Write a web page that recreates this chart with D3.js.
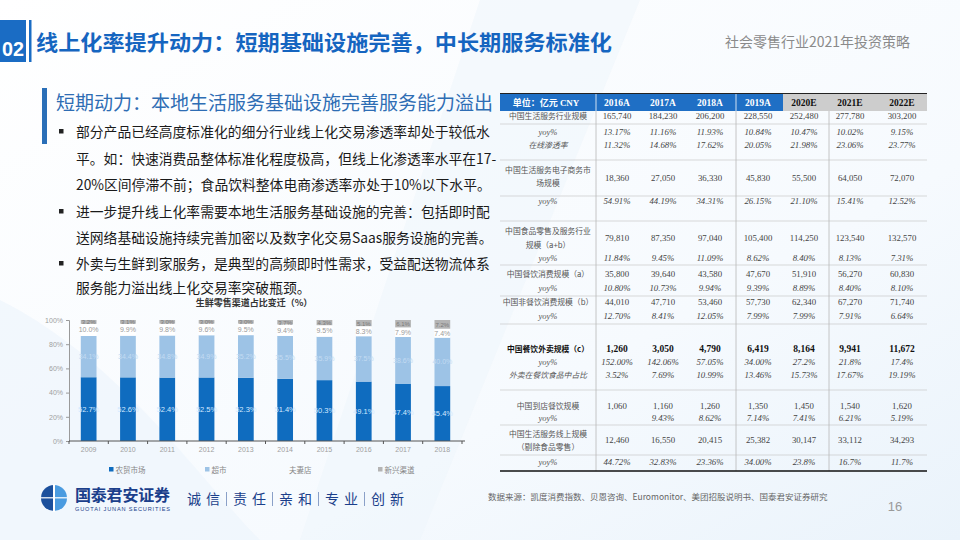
<!DOCTYPE html>
<html><head><meta charset="utf-8">
<script src="https://cdn.jsdelivr.net/npm/d3@7"></script>
<style>body{margin:0;background:#fff}svg{display:block}</style>
</head><body>
<svg id="c" width="960" height="540"></svg>
<script>
// ---------- data ----------
const chartYears = ["2009","2010","2011","2012","2013","2014","2015","2016","2017","2018"];
const wetMarket   = [52.7,52.6,52.4,52.5,52.3,51.4,50.3,49.1,47.4,45.4];
const supermarket = [34.1,34.4,34.8,34.9,35.2,35.5,35.9,37.5,38.6,40.0];
const momPop      = [10.0,9.9,9.8,9.6,9.5,9.4,9.5,8.3,7.9,7.4];
const emerging    = [3.2,3.1,3.0,3.0,3.0,3.7,4.3,5.1,6.1,7.2];
const seriesNames = ["农贸市场","超市","夫妻店","新兴渠道"];
const yTicks = [0,20,40,60,80,100];

const tableYears = ["2016A","2017A","2018A","2019A","2020E","2021E","2022E"];
const svcScale   = ["165,740","184,230","206,200","228,550","252,480","277,780","303,200"];
const svcYoy     = ["13.17%","11.16%","11.93%","10.84%","10.47%","10.02%","9.15%"];
const onlinePen  = ["11.32%","14.68%","17.62%","20.05%","21.98%","23.06%","23.77%"];
const ecomScale  = ["18,360","27,050","36,330","45,830","55,500","64,050","72,070"];
const ecomYoy    = ["54.91%","44.19%","34.31%","26.15%","21.10%","15.41%","12.52%"];
const foodScale  = ["79,810","87,350","97,040","105,400","114,250","123,540","132,570"];
const foodYoy    = ["11.84%","9.45%","11.09%","8.62%","8.40%","8.13%","7.31%"];
const cateringScale = ["35,800","39,640","43,580","47,670","51,910","56,270","60,830"];
const cateringYoy   = ["10.80%","10.73%","9.94%","9.39%","8.89%","8.40%","8.10%"];
const nonCatScale   = ["44,010","47,710","53,460","57,730","62,340","67,270","71,740"];
const nonCatYoy     = ["12.70%","8.41%","12.05%","7.99%","7.99%","7.91%","6.64%"];
const deliveryScale = ["1,260","3,050","4,790","6,419","8,164","9,941","11,672"];
const deliveryYoy   = ["152.00%","142.06%","57.05%","34.00%","27.2%","21.8%","17.4%"];
const deliveryShare = ["3.52%","7.69%","10.99%","13.46%","15.73%","17.67%","19.19%"];
const dineInScale   = ["1,060","1,160","1,260","1,350","1,450","1,540","1,620"];
const dineInYoy     = ["","9.43%","8.62%","7.14%","7.41%","6.21%","5.19%"];
const onlineScale   = ["12,460","16,550","20,415","25,382","30,147","33,112","34,293"];
const onlineYoy     = ["44.72%","32.83%","23.36%","34.00%","23.8%","16.7%","11.7%"];

const bullets = [
  ["部分产品已经高度标准化的细分行业线上化交易渗透率却处于较低水","平。如：快速消费品整体标准化程度极高，但线上化渗透率水平在17-","20%区间停滞不前；食品饮料整体电商渗透率亦处于10%以下水平。"],
  ["进一步提升线上化率需要本地生活服务基础设施的完善：包括即时配","送网络基础设施持续完善加密以及数字化交易Saas服务设施的完善。"],
  ["外卖与生鲜到家服务，是典型的高频即时性需求，受益配送物流体系","服务能力溢出线上化交易率突破瓶颈。"]
];
const mottoPairs = [["诚","信"],["责","任"],["亲","和"],["专","业"],["创","新"]];

// ---------- setup ----------
const svg = d3.select("#c");
const CJK = "'Noto Sans CJK SC','Noto Sans',sans-serif";
const SERIF = "'Liberation Serif','Noto Sans CJK SC',serif";
const BLUE = "#1a6cc4";

// background
const defs = svg.append("defs");
const g1 = defs.append("linearGradient").attr("id","bg1").attr("x1","0").attr("y1","0").attr("x2","1").attr("y2","1");
g1.append("stop").attr("offset","0").attr("stop-color","#ffffff");
g1.append("stop").attr("offset","0.65").attr("stop-color","#f6fafe");
g1.append("stop").attr("offset","1").attr("stop-color","#eaf3fb");
svg.append("rect").attr("width",960).attr("height",540).attr("fill","url(#bg1)");
svg.append("path").attr("d","M480,0 L640,0 L420,540 L300,540 Z").attr("fill","#eef5fc").attr("opacity",0.5);
svg.append("path").attr("d","M0,300 C120,360 200,480 260,540 L0,540 Z").attr("fill","#eef5fc").attr("opacity",0.7);

// ---------- header ----------
svg.append("rect").attr("x",0).attr("y",20).attr("width",26).attr("height",42).attr("fill",BLUE);
svg.append("text").attr("x",2).attr("y",56).attr("fill","#fff")
  .attr("font-family","'Liberation Sans',sans-serif").attr("font-weight","bold").attr("font-size",20)
  .attr("textLength",22).attr("lengthAdjust","spacingAndGlyphs").text("02");
svg.append("rect").attr("x",29).attr("y",20).attr("width",2.5).attr("height",42).attr("fill",BLUE);
svg.append("text").attr("x",36).attr("y",50).attr("fill","#1565c0").attr("font-family",CJK)
  .attr("font-weight","bold").attr("font-size",21).attr("textLength",576).attr("lengthAdjust","spacingAndGlyphs")
  .text("线上化率提升动力：短期基础设施完善，中长期服务标准化");
svg.append("text").attr("x",910).attr("y",47).attr("text-anchor","end").attr("fill","#8a8a8a").attr("font-family",CJK)
  .attr("font-size",14).text("社会零售行业2021年投资策略");

// ---------- subtitle & bullets ----------
svg.append("rect").attr("x",42).attr("y",88).attr("width",5).attr("height",56).attr("fill","#2a6fb8");
svg.append("text").attr("x",56).attr("y",110).attr("fill","#2e6db4").attr("font-family",CJK)
  .attr("font-size",19).text("短期动力：本地生活服务基础设施完善服务能力溢出");

const lineYs = [[137,164,190],[217,243],[269,293]];
bullets.forEach((b,i)=>{
  svg.append("rect").attr("x",59).attr("y",lineYs[i][0]-8).attr("width",4.5).attr("height",4.5).attr("fill","#222");
  b.forEach((ln,j)=>{
    svg.append("text").attr("x",76).attr("y",lineYs[i][j]).attr("fill","#1a1a1a").attr("font-family",CJK)
      .attr("font-size",13.8).text(ln);
  });
});

// ---------- stacked chart ----------
const chartG = svg.append("g");
chartG.append("text").attr("x",254).attr("y",306).attr("text-anchor","middle").attr("fill","#333")
  .attr("font-family",CJK).attr("font-weight","bold").attr("font-size",9).text("生鲜零售渠道占比变迁（%）");

const x = d3.scaleBand().domain(chartYears).range([69,462]).paddingInner(0.6).paddingOuter(0.3);
const y = d3.scaleLinear().domain([0,100]).range([441,320]);
const rowsData = chartYears.map((yr,i)=>({year:yr, s0:wetMarket[i], s1:supermarket[i], s2:momPop[i], s3:emerging[i]}));
const stack = d3.stack().keys(["s0","s1","s2","s3"])(rowsData);
const fills = ["#0f6cbf","#9dc3e6","#ffffff","#b4b4b4"];
const labelFill = ["#d4eaff","#c3dbf2","#9a9a9a","#7a7a7a"];
const labelSize = [7.5,7,7,6];

stack.forEach((layer,k)=>{
  chartG.append("g").selectAll("rect").data(layer).join("rect")
    .attr("x",d=>x(d.data.year)).attr("width",x.bandwidth())
    .attr("y",d=>y(d[1])).attr("height",d=>y(d[0])-y(d[1]))
    .attr("fill",fills[k]);
  chartG.append("g").selectAll("text").data(layer).join("text")
    .attr("x",d=>x(d.data.year)+x.bandwidth()/2)
    .attr("y",d=>(y(d[0])+y(d[1]))/2 + 2.5)
    .attr("text-anchor","middle").attr("fill",labelFill[k])
    .attr("font-family","'Liberation Sans',sans-serif").attr("font-size",labelSize[k])
    .text(d=>(d[1]-d[0]).toFixed(1)+"%");
});

const yAxis = chartG.append("g").attr("transform","translate(69,0)")
  .call(d3.axisLeft(y).tickValues(yTicks).tickSize(3).tickFormat(d=>d+"%"));
yAxis.selectAll("path,line").attr("stroke","#9a9a9a");
yAxis.selectAll("text").attr("fill","#a0a0a0").attr("font-size",7).attr("font-family","'Liberation Sans',sans-serif");

const xAxis = chartG.append("g").attr("transform","translate(0,441)")
  .call(d3.axisBottom(x).tickSize(0).tickPadding(6));
xAxis.select(".domain").attr("stroke","#555").attr("d","M69,0H465");
xAxis.selectAll("text").attr("fill","#a0a0a0").attr("font-size",7).attr("font-family","'Liberation Sans',sans-serif");
const step = x.step();
chartG.append("g").selectAll("line").data(d3.range(chartYears.length+1)).join("line")
  .attr("x1",i=>69+i*step).attr("x2",i=>69+i*step).attr("y1",441).attr("y2",444).attr("stroke","#555");

// legend
const legX = [109,205,289,378];
seriesNames.forEach((n,k)=>{
  if(k!==2) chartG.append("rect").attr("x",legX[k]).attr("y",467).attr("width",4.5).attr("height",4.5).attr("fill",fills[k]);
  chartG.append("text").attr("x",legX[k]+(k===2?0:6.5)).attr("y",472.5).attr("fill","#888")
    .attr("font-family",CJK).attr("font-size",7.5).text(n);
});

// ---------- table ----------
const T = svg.append("g");
const colX = [617,663,710,758,804,850,902];
T.append("rect").attr("x",500).attr("y",94).attr("width",283).attr("height",17).attr("fill","#1f6fc5");
T.append("rect").attr("x",783).attr("y",94).attr("width",144).attr("height",17).attr("fill","#cdcdcd");
T.append("line").attr("x1",500).attr("x2",927).attr("y1",93.5).attr("y2",93.5).attr("stroke","#222").attr("stroke-width",1);
[596,736].forEach(v=>T.append("line").attr("x1",v).attr("x2",v).attr("y1",94).attr("y2",111).attr("stroke","#fff").attr("stroke-width",0.8));
T.append("text").attr("x",546).attr("y",105.5).attr("text-anchor","middle").attr("fill","#fff")
  .attr("font-family",SERIF).attr("font-weight","bold").attr("font-size",9).text("单位：亿元 CNY");
tableYears.forEach((yr,i)=>{
  T.append("text").attr("x",colX[i]).attr("y",105.5).attr("text-anchor","middle")
    .attr("fill",i<4?"#fff":"#111").attr("font-family",SERIF).attr("font-weight","bold").attr("font-size",9.5).text(yr);
});

const tableRows = [
  {label:["中国生活服务行业规模"], vals:svcScale, ly:[119], vy:119},
  {label:["yoy%"], vals:svcYoy, ly:[135], vy:135, it:true},
  {label:["在线渗透率"], vals:onlinePen, ly:[148], vy:148, it:true},
  {label:["中国生活服务电子商务市","场规模"], vals:ecomScale, ly:[173,186], vy:181},
  {label:["yoy%"], vals:ecomYoy, ly:[204], vy:204, it:true},
  {label:["中国食品零售及服务行业","规模（a+b）"], vals:foodScale, ly:[234,248], vy:241},
  {label:["yoy%"], vals:foodYoy, ly:[261], vy:261, it:true},
  {label:["中国餐饮消费规模（a）"], vals:cateringScale, ly:[277], vy:277},
  {label:["yoy%"], vals:cateringYoy, ly:[291], vy:291, it:true},
  {label:["中国非餐饮消费规模（b）"], vals:nonCatScale, ly:[305], vy:305},
  {label:["yoy%"], vals:nonCatYoy, ly:[319], vy:319, it:true},
  {label:["中国餐饮外卖规模（c）"], vals:deliveryScale, ly:[352], vy:352, bold:true},
  {label:["yoy%"], vals:deliveryYoy, ly:[365], vy:365, it:true},
  {label:["外卖在餐饮食品中占比"], vals:deliveryShare, ly:[378], vy:378, it:true},
  {label:["中国到店餐饮规模"], vals:dineInScale, ly:[409], vy:409},
  {label:["yoy%"], vals:dineInYoy, ly:[421], vy:421, it:true},
  {label:["中国生活服务线上规模","（剔除食品零售）"], vals:onlineScale, ly:[437,450], vy:443},
  {label:["yoy%"], vals:onlineYoy, ly:[465], vy:465, it:true}
];
const hLines = [124,160,196,221,265,296,324,390,425,455];
hLines.forEach(v=>T.append("line").attr("x1",500).attr("x2",927).attr("y1",v).attr("y2",v).attr("stroke","#c8c8c8").attr("stroke-width",0.7));
[596,736,829].forEach(v=>T.append("line").attr("x1",v).attr("x2",v).attr("y1",111).attr("y2",471).attr("stroke","#b8b8b8").attr("stroke-width",0.8));
T.append("line").attr("x1",500).attr("x2",927).attr("y1",471).attr("y2",471).attr("stroke","#111").attr("stroke-width",1.4);

tableRows.forEach(r=>{
  r.label.forEach((l,j)=>{
    T.append("text").attr("x",548).attr("y",r.ly[j]).attr("text-anchor","middle")
      .attr("fill",r.bold?"#111":"#555").attr("font-weight",r.bold?"bold":"normal")
      .attr("font-style",r.it?"italic":"normal")
      .attr("font-family",l==="yoy%"?SERIF:CJK).attr("font-size",l==="yoy%"?8.5:7.8).text(l);
  });
  r.vals.forEach((v,i)=>{
    T.append("text").attr("x",colX[i]).attr("y",r.vy).attr("text-anchor","middle")
      .attr("fill",r.bold?"#111":"#444").attr("font-weight",r.bold?"bold":"normal")
      .attr("font-style",r.it?"italic":"normal")
      .attr("font-family",SERIF).attr("font-size",r.bold?9.5:8.8).text(v);
  });
});

// ---------- footer ----------
const logo = svg.append("g").attr("transform","translate(54,498)");
logo.append("path").attr("d",d3.arc()({innerRadius:0,outerRadius:13,startAngle:Math.PI,endAngle:2*Math.PI})).attr("fill","#1b4f9c");
logo.append("path").attr("d",d3.arc()({innerRadius:0,outerRadius:13,startAngle:0,endAngle:Math.PI})).attr("fill","#4a9be0");
logo.append("rect").attr("x",-1).attr("y",-14).attr("width",2).attr("height",28).attr("fill","#fff");
logo.append("rect").attr("x",-13).attr("y",-1).attr("width",26).attr("height",1.5).attr("fill","#fff").attr("opacity",0.8);
svg.append("text").attr("x",75).attr("y",501).attr("fill","#1b3f8b").attr("font-family",CJK).attr("font-weight","bold")
  .attr("font-size",16).attr("textLength",95).text("国泰君安证券");
svg.append("text").attr("x",75).attr("y",511).attr("fill","#1b3f8b").attr("font-family","'Liberation Sans',sans-serif")
  .attr("font-size",5.6).attr("textLength",95).text("GUOTAI JUNAN SECURITIES");
mottoPairs.forEach((p,i)=>{
  const gx = 194 + i*46;
  svg.append("text").attr("x",gx).attr("y",504).attr("text-anchor","middle")
    .attr("fill","#1b3f8b").attr("font-family",CJK).attr("font-size",14).text(p[0]);
  svg.append("text").attr("x",gx+19).attr("y",504).attr("text-anchor","middle")
    .attr("fill","#1b3f8b").attr("font-family",CJK).attr("font-size",14).text(p[1]);
  if(i<mottoPairs.length-1)
    svg.append("line").attr("x1",gx+32.5).attr("x2",gx+32.5).attr("y1",492).attr("y2",506)
      .attr("stroke","#8aa0c8").attr("stroke-width",1);
});
svg.append("text").attr("x",488).attr("y",500).attr("fill","#666").attr("font-family",CJK)
  .attr("font-size",8.5).text("数据来源：凯度消费指数、贝恩咨询、Euromonitor、美团招股说明书、国泰君安证券研究");
svg.append("text").attr("x",895).attr("y",511).attr("text-anchor","middle").attr("fill","#9a9a9a").attr("font-family","'Liberation Sans',sans-serif")
  .attr("font-size",13).text("16");
</script>
</body></html>
